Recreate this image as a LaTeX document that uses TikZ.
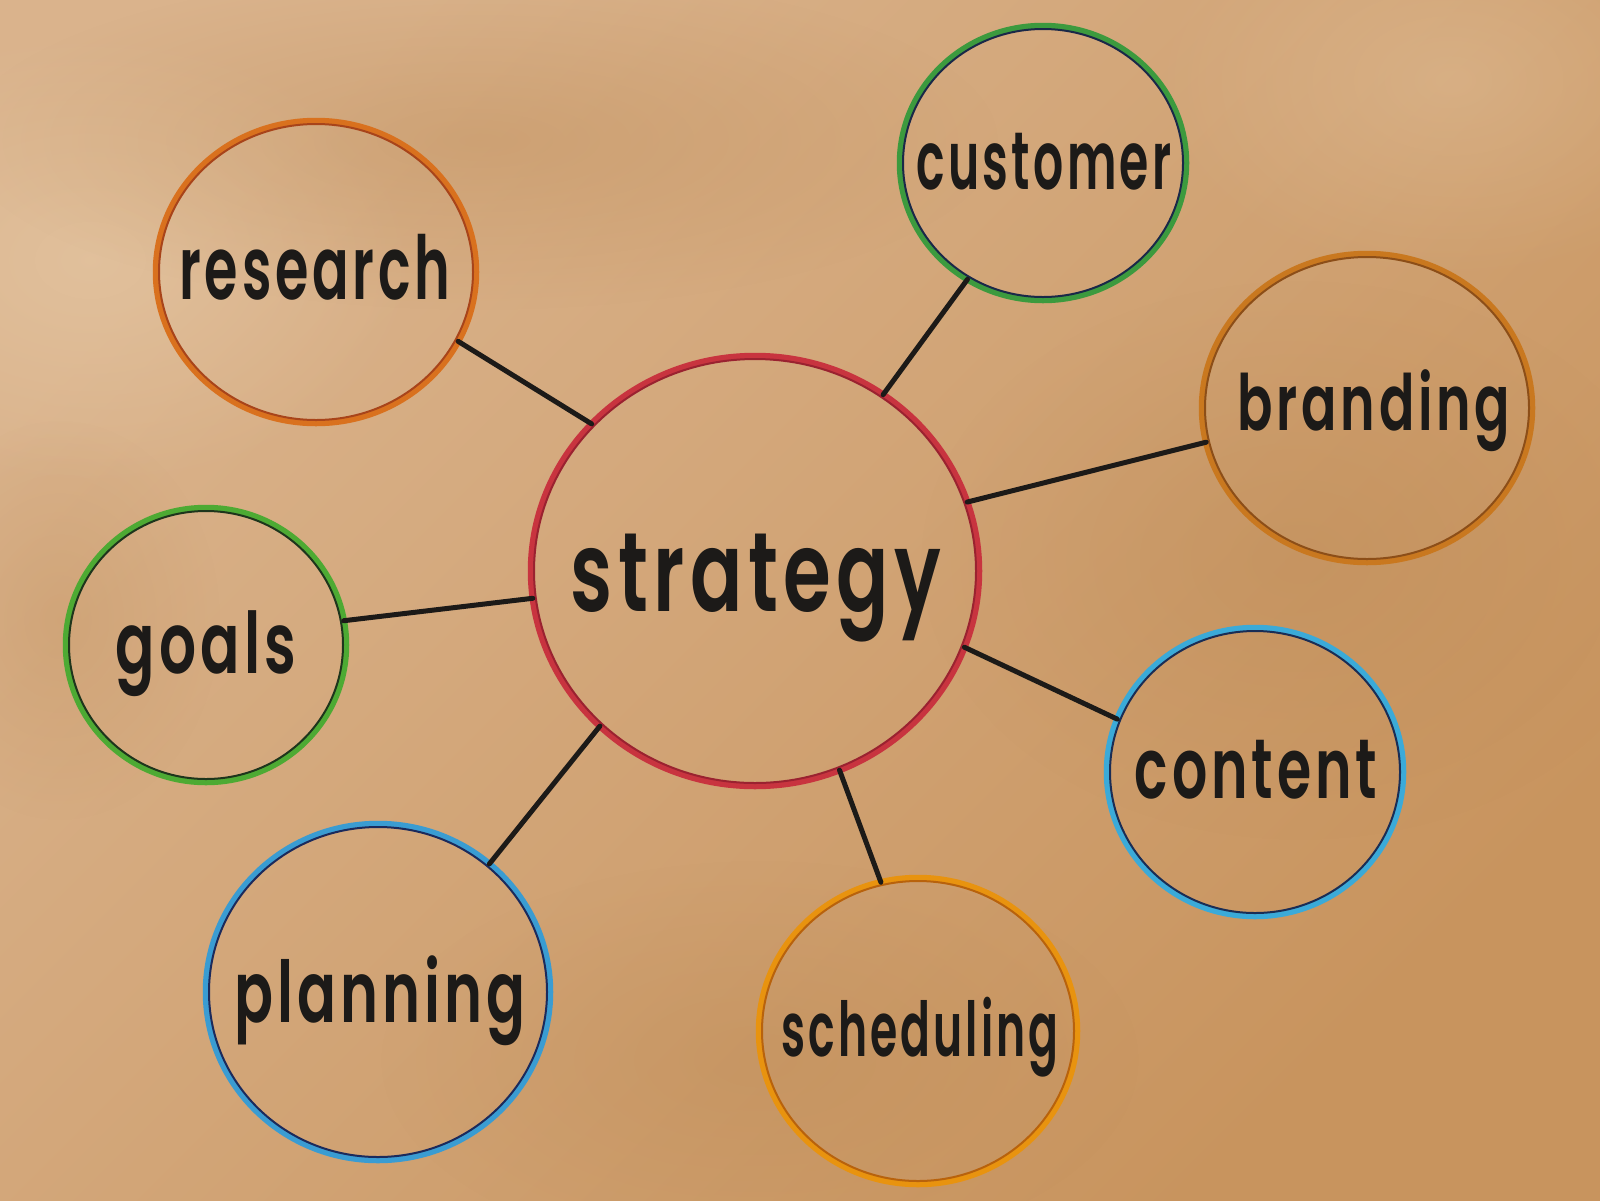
\documentclass[tikz,border=0pt]{standalone}
\usepackage{fontspec}
\usepackage{graphicx}
\newfontfamily\markerfont{Poppins}[UprightFont={* SemiBold}, LetterSpace=7]
\usetikzlibrary{shapes.geometric,fadings}
\definecolor{paperA}{HTML}{DAB38C}
\definecolor{paperB}{HTML}{C8945E}
\definecolor{paperL}{HTML}{E6C9A6}
\definecolor{paperD}{HTML}{B98650}
\definecolor{ink}{HTML}{1C1A18}
\definecolor{cRed}{HTML}{C8343F}
\definecolor{cRedD}{HTML}{9A2230}
\definecolor{cOrange}{HTML}{D9711E}
\definecolor{cOrangeD}{HTML}{A8441A}
\definecolor{cTeal}{HTML}{3C9A3E}
\definecolor{cTealD}{HTML}{1A2848}
\definecolor{cBrand}{HTML}{C9781F}
\definecolor{cBrandD}{HTML}{8C4E18}
\definecolor{cGreen}{HTML}{4DAA33}
\definecolor{cGreenD}{HTML}{1E351C}
\definecolor{cBlue}{HTML}{3BAAD8}
\definecolor{cBlueD}{HTML}{1A2D55}
\definecolor{cPlan}{HTML}{3A9CD2}
\definecolor{cPlanD}{HTML}{1B2A5C}
\definecolor{cSched}{HTML}{E8930F}
\definecolor{cSchedD}{HTML}{B8620C}
\tikzfading[name=softspot, inner color=transparent!0, outer color=transparent!100]
\begin{document}
\begin{tikzpicture}[x=1pt,y=-1pt,
  bubble/.style={ellipse, inner sep=0pt, outer sep=0pt, line width=6.5pt},
  inner ring/.style={line width=2pt},
  link/.style={line width=5pt, draw=ink, line cap=round},
  lbl/.style={inner sep=0pt, outer sep=0pt, text=ink, font=\markerfont}]
\useasboundingbox (0,0) rectangle (1600,1200);
% kraft paper background
\shade[top color=paperA, bottom color=paperB, shading angle=45] (0,0) rectangle (1600,1200);
\fill[paperL, opacity=0.6, path fading=softspot]
  (90,260) ellipse (330 and 230);
\fill[paperL, opacity=0.35, path fading=softspot]
  (1450,80) ellipse (300 and 200);
\fill[paperD, opacity=0.35, path fading=softspot]
  (480,140) ellipse (520 and 170);
\fill[paperD, opacity=0.35, path fading=softspot]
  (1300,560) ellipse (380 and 280);
\fill[paperD, opacity=0.30, path fading=softspot]
  (760,1060) ellipse (380 and 200);
\fill[paperD, opacity=0.25, path fading=softspot]
  (60,620) ellipse (160 and 200);

% bubbles
\node[bubble, draw=cRed, minimum width=448pt, minimum height=430pt] (strat) at (755,571) {};
\node[bubble, draw=cOrange, minimum width=320pt, minimum height=302pt] (research) at (316,272) {};
\node[bubble, draw=cTeal, minimum width=286pt, minimum height=274pt] (customer) at (1043,163) {};
\node[bubble, draw=cBrand, minimum width=330pt, minimum height=308pt] (branding) at (1367,408) {};
\node[bubble, draw=cGreen, minimum width=280pt, minimum height=274pt] (goals) at (206,645) {};
\node[bubble, draw=cBlue, minimum width=296pt, minimum height=288pt] (content) at (1255,772) {};
\node[bubble, draw=cPlan, minimum width=344pt, minimum height=336pt] (planning) at (378,992) {};
\node[bubble, draw=cSched, minimum width=318pt, minimum height=306pt] (scheduling) at (918,1031) {};

% inner marker edges
\draw[inner ring, cRedD] (strat.center) ellipse (221 and 212);
\draw[inner ring, cOrangeD] (research.center) ellipse (157 and 148);
\draw[inner ring, cTealD] (customer.center) ellipse (140 and 134);
\draw[inner ring, cBrandD] (branding.center) ellipse (162 and 151);
\draw[inner ring, cGreenD] (goals.center) ellipse (137 and 134);
\draw[inner ring, cBlueD] (content.center) ellipse (145 and 141);
\draw[inner ring, cPlanD] (planning.center) ellipse (169 and 165);
\draw[inner ring, cSchedD] (scheduling.center) ellipse (156 and 150);

% connectors
\draw[link] (research.-26) -- (strat.138);
\draw[link] (customer.237) -- (strat.54);
\draw[link] (branding.192) -- (strat.18);
\draw[link] (goals.10) -- (strat.187);
\draw[link] (strat.-20) -- (content.159);
\draw[link] (planning.49) -- (strat.225);
\draw[link] (strat.-67) -- (scheduling.104);

% labels
\node[lbl] (tStrat) at (756,588) {\resizebox*{370pt}{108pt}{strategy}};
\node[lbl] (tResearch) at (315,267) {\resizebox*{271pt}{66pt}{research}};
\node[lbl] (tCustomer) at (1044,162) {\resizebox*{255pt}{57pt}{customer}};
\node[lbl] (tBranding) at (1374,411) {\resizebox*{272pt}{82pt}{branding}};
\node[lbl] (tGoals) at (206,654) {\resizebox*{180pt}{86pt}{goals}};
\node[lbl] (tContent) at (1256,770) {\resizebox*{242pt}{59pt}{content}};
\node[lbl] (tPlanning) at (380,1001) {\resizebox*{291pt}{90pt}{planning}};
\node[lbl] (tSched) at (920,1037) {\resizebox*{277pt}{80pt}{scheduling}};
\end{tikzpicture}
\end{document}
